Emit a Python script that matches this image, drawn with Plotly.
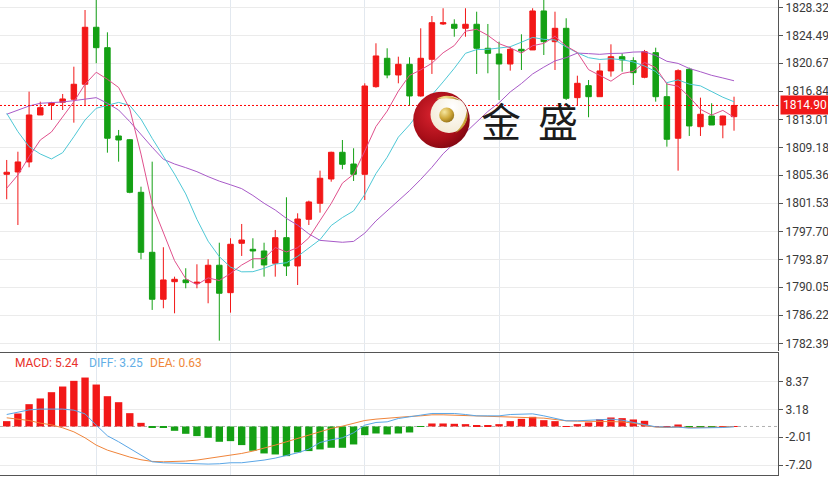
import base64
import pandas as pd
import plotly.graph_objects as go

# ---------------- data ----------------
opens = [1805.49, 1805.81, 1807.18, 1813.60, 1815.00, 1815.34, 1815.75, 1817.80, 1825.59, 1822.80,
         1810.73, 1810.22, 1803.03, 1794.83, 1788.41, 1790.81, 1791.05, 1790.60, 1790.68, 1793.06,
         1789.31, 1796.06, 1795.24, 1795.01, 1793.33, 1796.83, 1792.96, 1799.34, 1801.53, 1804.85,
         1808.50, 1806.90, 1805.49, 1817.47, 1821.35, 1819.07, 1820.53, 1816.20, 1821.21, 1826.04,
         1826.00, 1825.45, 1826.00, 1822.72, 1821.94, 1820.57, 1822.58, 1822.49, 1827.82, 1823.62,
         1825.45, 1815.97, 1817.61, 1816.10, 1819.62, 1821.57, 1821.02, 1818.75, 1822.12, 1816.10,
         1810.42, 1819.85, 1812.00, 1813.46, 1812.23, 1813.37]
highs = [1807.45, 1808.58, 1816.79, 1815.42, 1815.40, 1816.47, 1820.20, 1827.95, 1830.60, 1824.90,
         1811.55, 1810.30, 1803.80, 1807.22, 1795.52, 1791.50, 1792.65, 1793.19, 1793.88, 1796.14,
         1796.75, 1798.70, 1796.75, 1796.14, 1797.88, 1802.35, 1800.16, 1801.89, 1805.99, 1808.58,
         1810.18, 1809.05, 1817.93, 1823.40, 1822.72, 1821.57, 1821.49, 1825.45, 1827.13, 1828.19,
         1826.68, 1828.19, 1827.72, 1826.04, 1823.62, 1822.94, 1824.63, 1828.19, 1829.80, 1827.72,
         1826.82, 1818.97, 1818.38, 1820.67, 1823.26, 1822.03, 1821.49, 1822.49, 1822.80, 1817.93,
         1819.85, 1820.07, 1815.97, 1815.20, 1813.50, 1816.10]
lows = [1802.08, 1798.56, 1806.45, 1813.60, 1812.92, 1814.28, 1812.55, 1814.97, 1820.67, 1808.45,
        1807.22, 1802.90, 1793.88, 1786.95, 1787.18, 1786.49, 1789.91, 1789.91, 1787.86, 1782.75,
        1786.58, 1794.33, 1792.65, 1791.50, 1791.50, 1791.59, 1790.36, 1798.56, 1800.25, 1804.48,
        1806.18, 1804.58, 1801.98, 1817.33, 1818.62, 1817.93, 1814.83, 1816.10, 1819.21, 1825.90,
        1824.30, 1824.30, 1819.21, 1819.30, 1815.65, 1819.66, 1819.75, 1822.49, 1821.80, 1819.75,
        1815.65, 1814.83, 1813.29, 1816.10, 1818.84, 1819.52, 1817.70, 1818.62, 1815.42, 1809.27,
        1805.99, 1810.73, 1810.73, 1812.23, 1810.42, 1811.45]
closes = [1805.77, 1807.18, 1813.60, 1814.60, 1815.24, 1815.79, 1817.80, 1825.59, 1822.80, 1810.42,
          1810.18, 1803.03, 1794.83, 1788.41, 1791.05, 1791.14, 1790.68, 1790.73, 1793.06, 1789.23,
          1795.93, 1796.51, 1795.01, 1793.10, 1796.83, 1792.96, 1799.38, 1801.71, 1804.95, 1808.50,
          1806.86, 1805.49, 1817.56, 1821.67, 1819.07, 1820.53, 1816.20, 1821.35, 1826.22, 1826.22,
          1825.45, 1826.00, 1822.72, 1822.03, 1820.57, 1822.58, 1822.35, 1827.82, 1823.62, 1825.45,
          1815.88, 1817.93, 1816.10, 1819.62, 1821.57, 1821.12, 1819.38, 1822.25, 1816.10, 1810.28,
          1819.66, 1812.10, 1813.70, 1812.23, 1813.46, 1814.90]

# moving-average values visible before enough bars exist
ma5_head = [1803.58, 1805.40, 1807.90, 1810.18]
ma10_head = [1813.83, 1811.32, 1809.27, 1808.27, 1807.59, 1808.45, 1810.63, 1812.92, 1814.52]
ma20_head = [1813.70, 1814.28, 1814.83, 1815.20, 1815.24, 1815.38, 1815.56, 1815.75, 1815.97, 1815.20,
             1814.28, 1812.69, 1810.87, 1809.19, 1807.55, 1806.90, 1806.40, 1805.85, 1805.17]

macd_hist = [1.00, 2.43, 4.17, 5.24, 6.41, 7.47, 8.53, 9.15, 7.84, 5.66,
             4.54, 2.49, 0.68, -0.20, -0.20, -0.81, -1.37, -1.80, -2.12, -2.86,
             -2.74, -3.48, -4.54, -5.04, -5.23, -5.54, -4.85, -4.60, -4.29, -3.98,
             -3.98, -3.36, -1.62, -1.31, -1.49, -1.31, -1.12, -0.08, 0.56, 0.56,
             0.50, 0.44, 0.19, 0.19, 0.44, 1.00, 1.43, 1.80, 1.18, 1.00,
             0.06, 0.44, 0.75, 1.37, 1.68, 1.56, 1.31, 1.06, 0.06, 0.06,
             0.37, -0.15, -0.15, -0.15, 0.04, 0.04]
diff_line = [2.24, 2.74, 3.10, 3.25, 3.30, 3.25, 3.05, 2.36, 0.25, -1.74,
             -2.86, -4.11, -5.48, -6.60, -6.78, -6.84, -6.97, -7.03, -7.03, -6.97,
             -6.78, -6.78, -6.60, -6.28, -5.91, -5.41, -4.92, -4.23, -2.99, -2.49,
             -2.12, -1.18, 0.25, 0.75, 0.87, 1.49, 1.74, 2.12, 2.43, 2.49,
             2.43, 2.24, 1.99, 1.99, 1.99, 2.24, 2.36, 2.36, 1.99, 1.49,
             1.06, 1.06, 1.18, 1.37, 1.37, 1.18, 0.81, 0.37, -0.06, -0.12,
             -0.12, -0.31, -0.31, -0.31, -0.19, -0.06]
dea_line = [1.62, 1.43, 1.12, 0.63, 0.31, -0.25, -1.00, -2.12, -3.48, -4.42,
            -5.10, -5.72, -6.22, -6.53, -6.60, -6.60, -6.47, -6.28, -5.97, -5.72,
            -5.35, -5.04, -4.60, -4.11, -3.48, -2.86, -2.24, -1.62, -1.00, -0.37,
            0.06, 0.56, 1.12, 1.37, 1.56, 1.68, 1.87, 1.99, 2.18, 2.18,
            2.12, 1.99, 1.87, 1.80, 1.74, 1.68, 1.68, 1.68, 1.56, 1.31,
            1.06, 1.00, 1.00, 1.00, 1.00, 0.87, 0.62, 0.25, -0.12, -0.19,
            -0.12, -0.19, -0.19, -0.19, -0.12, 0.00]

price_ticks = [1782.39, 1786.22, 1790.05, 1793.87, 1797.70, 1801.53, 1805.36,
               1809.18, 1813.01, 1816.84, 1820.67, 1824.49, 1828.32]
price_tick_text = ["1782.39", "1786.22", "1790.05", "1793.87", "1797.70", "1801.53", "1805.36",
                   "1809.18", "1813.01", "1816.84", "1820.67", "1824.49", "1828.32"]
macd_ticks = [8.37, 3.18, -2.01, -7.20]
macd_tick_text = ["8.37", "3.18", "-2.01", "-7.20"]
x_grid_bars = [8, 20, 32, 44, 56]
last_price = 1814.90
legend_macd, legend_diff, legend_dea = "MACD: 5.24", "DIFF: 3.25", "DEA: 0.63"

# ---------------- styling ----------------
RED = "#f21818"
GREEN = "#14a014"
C_MA5 = "#e0508c"
C_MA10 = "#4ec8d6"
C_MA20 = "#a85ac8"
C_DIFF = "#5aa6e6"
C_DEA = "#f0843a"
AXIS = "#555555"
GRID = "#ebebeb"
VGRID = "#e2e8ef"
FONT = "Roboto"

n = len(closes)
idx = list(range(n))
s = pd.Series(closes)


def moving_average(period, head):
    vals = s.rolling(period).mean().round(2).tolist()
    vals[:len(head)] = head
    return vals


ma5 = moving_average(5, ma5_head)
ma10 = moving_average(10, ma10_head)
ma20 = moving_average(20, ma20_head)

W, H = 828, 477
ML, MR, MT, MB = 0, 50, 0, 2
PW, PH = W - ML - MR, H - MT - MB
main_bottom_px, macd_top_px = 351, 353
xr = [-0.6, 68.93]

fig = go.Figure()
fig.add_trace(go.Candlestick(
    x=idx, open=opens, high=highs, low=lows, close=closes,
    increasing=dict(line=dict(color=RED, width=1), fillcolor=RED),
    decreasing=dict(line=dict(color=GREEN, width=1), fillcolor=GREEN),
    whiskerwidth=0, xaxis="x", yaxis="y", hoverinfo="skip", showlegend=False))
for vals, col in ((ma20, C_MA20), (ma10, C_MA10), (ma5, C_MA5)):
    fig.add_trace(go.Scatter(x=idx, y=vals, mode="lines", line=dict(color=col, width=1),
                             xaxis="x", yaxis="y", hoverinfo="skip", showlegend=False))
# last-price reference line
fig.add_trace(go.Scatter(x=xr, y=[last_price, last_price], mode="lines",
                         line=dict(color="#ff0000", width=1, dash="2px,2px"),
                         xaxis="x", yaxis="y", hoverinfo="skip", showlegend=False))

bar_colors = [RED if v >= 0 else GREEN for v in macd_hist]
fig.add_trace(go.Bar(x=idx, y=macd_hist, marker=dict(color=bar_colors, line=dict(width=0)),
                     width=0.66, xaxis="x2", yaxis="y2", hoverinfo="skip", showlegend=False))
fig.add_trace(go.Scatter(x=idx, y=dea_line, mode="lines", line=dict(color=C_DEA, width=1),
                         xaxis="x2", yaxis="y2", hoverinfo="skip", showlegend=False))
fig.add_trace(go.Scatter(x=idx, y=diff_line, mode="lines", line=dict(color=C_DIFF, width=1),
                         xaxis="x2", yaxis="y2", hoverinfo="skip", showlegend=False))

common_x = dict(range=xr, tickvals=x_grid_bars, showticklabels=False, showgrid=True,
                gridcolor=VGRID, gridwidth=1, zeroline=False, ticks="", fixedrange=True)
main_dom = [(PH - main_bottom_px) / PH, 1]
macd_dom = [0, (PH - macd_top_px) / PH]
y_per_px = (1828.32 - 1782.39) / (343.3 - 7.3)
main_range = [1828.32 + 7.3 * y_per_px - main_bottom_px * y_per_px, 1828.32 + 7.3 * y_per_px]
m_per_px = (8.37 - (-7.20)) / (465.0 - 381.7)
zero_px = 381.7 + 8.37 / m_per_px
macd_range = [(zero_px - PH) * m_per_px, (zero_px - macd_top_px) * m_per_px]

fig.update_layout(
    width=W, height=H, margin=dict(l=ML, r=MR, t=MT, b=MB, autoexpand=False),
    paper_bgcolor="white", plot_bgcolor="white", showlegend=False,
    font=dict(family=FONT, size=12, color="#333333"),
    xaxis=dict(domain=[0, 1], anchor="y", rangeslider=dict(visible=False), **common_x),
    xaxis2=dict(domain=[0, 1], anchor="y2", matches="x", showline=True, mirror=True,
                linecolor=AXIS, linewidth=1, **common_x),
    yaxis=dict(domain=main_dom, range=main_range, side="right", tickvals=price_ticks,
               ticktext=price_tick_text, showgrid=True, gridcolor=GRID, zeroline=False,
               showline=True, linecolor=AXIS, linewidth=1, ticks="outside", ticklen=4,
               tickcolor=AXIS, tickfont=dict(family=FONT, size=12, color="#3a3a3a"),
               fixedrange=True, automargin=False),
    yaxis2=dict(domain=macd_dom, range=macd_range, side="right", tickvals=macd_ticks,
                ticktext=macd_tick_text, showgrid=True, gridcolor=GRID, zeroline=False,
                showline=True, linecolor=AXIS, linewidth=1, ticks="outside", ticklen=4,
                tickcolor=AXIS, tickfont=dict(family=FONT, size=12, color="#3a3a3a"),
                fixedrange=True, automargin=False),
)

fig.add_shape(type="line", xref="x2", yref="y2", x0=xr[0], x1=xr[1], y0=0, y1=0,
              line=dict(color="#b0b0b0", width=1, dash="3px,3px"), layer="below")

fig.add_annotation(x=1, xref="paper", xanchor="left", xshift=2, y=last_price, yref="y",
                   text=f"{last_price:.2f}", showarrow=False, bgcolor=RED, borderpad=2,
                   font=dict(family=FONT, size=12, color="white"))

legend_y = 1 - 363 / PH
for txt, col, xpx in ((legend_macd, "#e8302a", 13), (legend_diff, "#62aee6", 87),
                      (legend_dea, "#f0883a", 148)):
    fig.add_annotation(x=xpx / PW, xref="paper", xanchor="left", y=legend_y, yref="paper",
                       yanchor="middle", text=txt, showarrow=False,
                       font=dict(family=FONT, size=12, color=col))

# watermark
for ch, cx in (("金", 501.5), ("盛", 557.5)):
    fig.add_annotation(x=cx / PW, xref="paper", xanchor="center", y=1 - 120 / PH, yref="paper",
                       yanchor="middle", text=ch, showarrow=False,
                       font=dict(family="Noto Sans CJK SC", size=40, color="#1c1c1c"))

svg = """<svg xmlns='http://www.w3.org/2000/svg' width='57' height='57' viewBox='0 0 57 57'>
<defs>
<radialGradient id='r' cx='0.4' cy='0.4' r='0.7'><stop offset='0' stop-color='#dc2430'/><stop offset='0.65' stop-color='#a80e18'/><stop offset='1' stop-color='#760610'/></radialGradient>
<radialGradient id='g' cx='0.35' cy='0.3' r='0.8'><stop offset='0' stop-color='#f6e7a0'/><stop offset='0.55' stop-color='#cfa83a'/><stop offset='1' stop-color='#8c6a14'/></radialGradient>
<radialGradient id='w' cx='0.6' cy='0.3' r='0.8'><stop offset='0' stop-color='#ffffff'/><stop offset='1' stop-color='#f2e8d0'/></radialGradient>
</defs>
<circle cx='28.5' cy='28.5' r='28.3' fill='url(#r)'/>
<circle cx='36' cy='23' r='18.5' fill='url(#w)'/>
<path d='M23,8 Q34,0 47,9 Q35,5 23,8 Z' fill='url(#g)'/>
<path d='M54,19 Q57,33 42,42 Q52,32 54,19 Z' fill='url(#g)'/>
<circle cx='33.7' cy='23.5' r='7.5' fill='url(#g)'/>
</svg>"""
src = "data:image/svg+xml;base64," + base64.b64encode(svg.encode()).decode()
fig.add_layout_image(source=src, xref="paper", yref="paper", x=413 / PW, y=1 - 91.5 / PH,
                     sizex=57 / PW, sizey=57 / PH, xanchor="left", yanchor="top",
                     sizing="contain", layer="above")

fig.write_html("out.html", config={"displayModeBar": False},
               post_script="document.body.style.margin='0px';document.body.style.overflow='hidden';")
